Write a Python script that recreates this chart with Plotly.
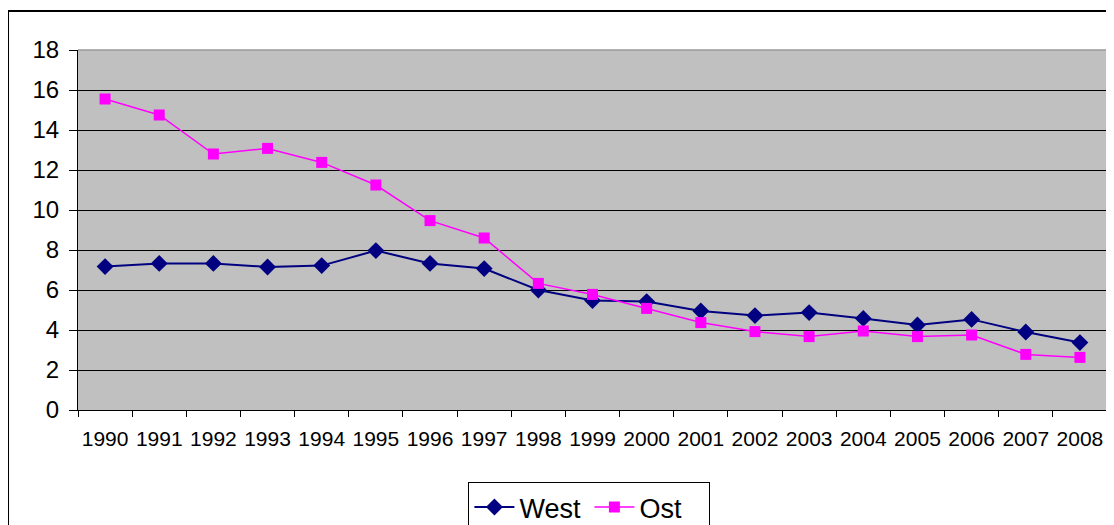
import plotly.graph_objects as go

years = [str(y) for y in range(1990, 2009)]
west = [7.17, 7.33, 7.33, 7.15, 7.22, 7.97, 7.33, 7.07, 6.0, 5.47,
        5.42, 4.95, 4.72, 4.87, 4.58, 4.25, 4.53, 3.9, 3.37]
ost = [15.55, 14.75, 12.8, 13.08, 12.38, 11.25, 9.47, 8.6, 6.33, 5.78,
       5.08, 4.37, 3.92, 3.67, 3.95, 3.67, 3.75, 2.78, 2.63]

fig = go.Figure()
fig.add_trace(go.Scatter(x=years, y=west, name='West', mode='lines+markers',
                         line=dict(color='#000080', width=2),
                         marker=dict(symbol='diamond', size=13, color='#000080')))
fig.add_trace(go.Scatter(x=years, y=ost, name='Ost', mode='lines+markers',
                         line=dict(color='#FF00FF', width=1.5),
                         marker=dict(symbol='square', size=11, color='#FF00FF')))

# outer chart frame (left and top edges visible)
fig.add_shape(type='line', xref='paper', yref='paper',
              x0=-0.068, x1=-0.068, y0=1.108, y1=-0.45,
              line=dict(color='black', width=2))
fig.add_shape(type='line', xref='paper', yref='paper',
              x0=-0.068, x1=1.1, y0=1.108, y1=1.108,
              line=dict(color='black', width=2))
# grey top / right edge of plot area
fig.add_shape(type='line', xref='paper', yref='paper', layer='above',
              x0=0, x1=1, y0=1, y1=1, line=dict(color='#9a9a9a', width=1.5))
fig.add_shape(type='line', xref='paper', yref='paper', layer='above',
              x0=1, x1=1, y0=0, y1=1, line=dict(color='#9a9a9a', width=1))

# figure is taller than the window so the legend box runs off the bottom
fig.update_layout(
    width=1114, height=545,
    margin=dict(l=70, r=15, t=42, b=143),
    plot_bgcolor='#C0C0C0', paper_bgcolor='white',
    font=dict(family='Liberation Sans, Arial', color='black', size=20),
    legend=dict(orientation='h', x=0.497, xanchor='center', y=-0.2, yanchor='top',
                bordercolor='black', borderwidth=1, font=dict(size=27),
                itemwidth=40, tracegroupgap=0, entrywidth=65),
    showlegend=True,
)
fig.update_xaxes(type='category', range=[-0.5, 18.5], showgrid=False,
                 tickson='boundaries', ticks='outside', ticklen=6,
                 tickcolor='black', tickangle=0, ticklabelstandoff=10,
                 showline=True, linecolor='black', linewidth=1,
                 tickfont=dict(size=21))
fig.update_yaxes(range=[0, 18], dtick=2, showgrid=True, gridcolor='black',
                 gridwidth=1, ticks='outside', ticklen=8, tickcolor='black',
                 ticklabelstandoff=5,
                 showline=True, linecolor='black', linewidth=1, zeroline=False,
                 tickfont=dict(size=24))

fig.write_html("out.html")
